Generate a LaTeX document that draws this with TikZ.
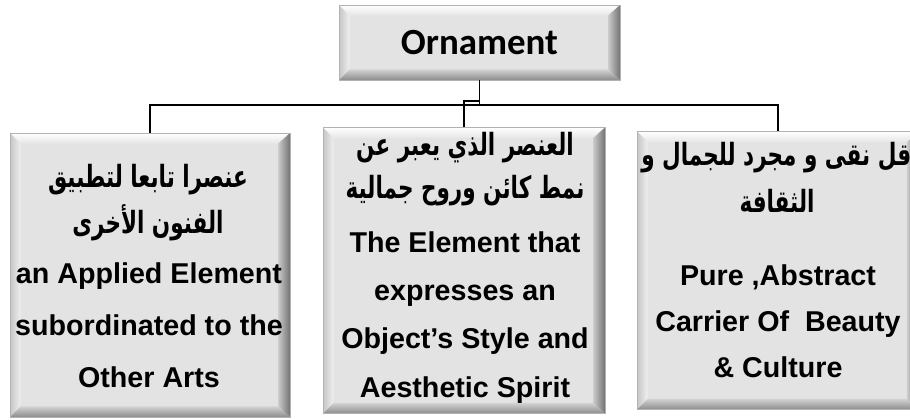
\documentclass[tikz,border=0pt]{standalone}
\usepackage{fontspec}
\setmainfont{Liberation Sans}
\newfontfamily\calfont{Carlito}
\newfontfamily\arabicfont[Script=Arabic]{DejaVu Sans}
\TeXXeTstate=1
\usetikzlibrary{calc}

\newcommand{\artall}[1]{\scalebox{0.95}[1.35]{\beginR #1\endR}}

\tikzset{
	bevelbox/.style={draw=gray!60, line width=0.4pt, fill=gray!22, inner sep=0pt,
		path picture={
			\coordinate (pnw) at (path picture bounding box.north west);
			\coordinate (pse) at (path picture bounding box.south east);
			\coordinate (pne) at (pnw -| pse);
			\coordinate (psw) at (pse -| pnw);
			\shade[top color=white, bottom color=gray!20] (pnw) -- (pne) -- ($(pne)+(-9pt,-8pt)$) -- ($(pnw)+(8pt,-8pt)$) -- cycle; %top
			\shade[left color=gray!45, right color=gray!12] (pnw) -- ($(pnw)+(8pt,-8pt)$) -- ($(psw)+(8pt,8pt)$) -- (psw) -- cycle; %left
			\shade[left color=gray!40, right color=gray!110] (pne) -- (pse) -- ($(pse)+(-9pt,8pt)$) -- ($(pne)+(-9pt,-8pt)$) -- cycle; %right
			\shade[top color=gray!35, bottom color=gray!90] (psw) -- (pse) -- ($(pse)+(-9pt,8pt)$) -- ($(psw)+(8pt,8pt)$) -- cycle; %bottom
		}},
	entext/.style={font=\bfseries\fontsize{21.5}{21.5}\selectfont, inner sep=0pt, anchor=base},
	artext/.style={font=\arabicfont\bfseries\fontsize{17}{17}\selectfont, inner sep=0pt, anchor=base},
	link/.style={line width=1.4pt}
}

\begin{document}
\begin{tikzpicture}[x=0.75pt,y=-0.75pt]
	\useasboundingbox (0,0) rectangle (910,419);
	\clip (0,0) rectangle (910,419);
	%boxes
	\node[bevelbox, minimum width=210.75pt, minimum height=56.25pt] (root) at (479.5,42.5) {};
	\node[bevelbox, minimum width=210pt, minimum height=213pt] (lbox) at (150,275) {};
	\node[bevelbox, minimum width=211.5pt, minimum height=214.5pt] (mbox) at (464,270.5) {};
	\node[bevelbox, minimum width=211.5pt, minimum height=208.5pt] (rbox) at (778,270.5) {};
	\node[font=\calfont\bfseries\fontsize{27.7}{27.7}\selectfont, inner sep=0pt] (title) at (root.center) {Ornament};
	%connectors
	\coordinate (bus) at (479.5,105);
	\draw[link] (root.south) -- (bus);
	\draw[link] (lbox.north) |- (bus) -| (rbox.north);
	\draw[link] (mbox.north) |- ([yshift=3pt]bus) -- (bus);
	%left
	\node[artext] (l-a1) at (148,187) {\artall{عنصرا تابعا لتطبيق}};
	\node[artext] (l-a2) at (148,233) {\artall{الفنون الأخرى}};
	\foreach \t [count=\i] in {an Applied Element, subordinated to the, Other Arts}
		\node[entext] (l-e\i) at (149,{231+52*\i}) {\t};
	%middle
	\node[artext] (m-a1) at (465,155) {\artall{العنصر الذي يعبر عن}};
	\node[artext] (m-a2) at (465,198) {\artall{نمط كائن وروح جمالية}};
	\foreach \t [count=\i] in {The Element that, expresses an, Object's Style and, Aesthetic Spirit}
		\node[entext] (m-e\i) at (465,{204+48.3*\i}) {\t};
	%right
	\node[artext, anchor=base west] (r-a1) at (641,165) {\artall{ناقل نقى و مجرد للجمال و}};
	\node[artext] (r-a2) at (777,212) {\artall{الثقافة}};
	\foreach \t [count=\i] in {{Pure ,Abstract}, {Carrier Of\ \ Beauty}, \& Culture}
		\node[entext] (r-e\i) at (778,{239+46*\i}) {\t};
\end{tikzpicture}
\end{document}
